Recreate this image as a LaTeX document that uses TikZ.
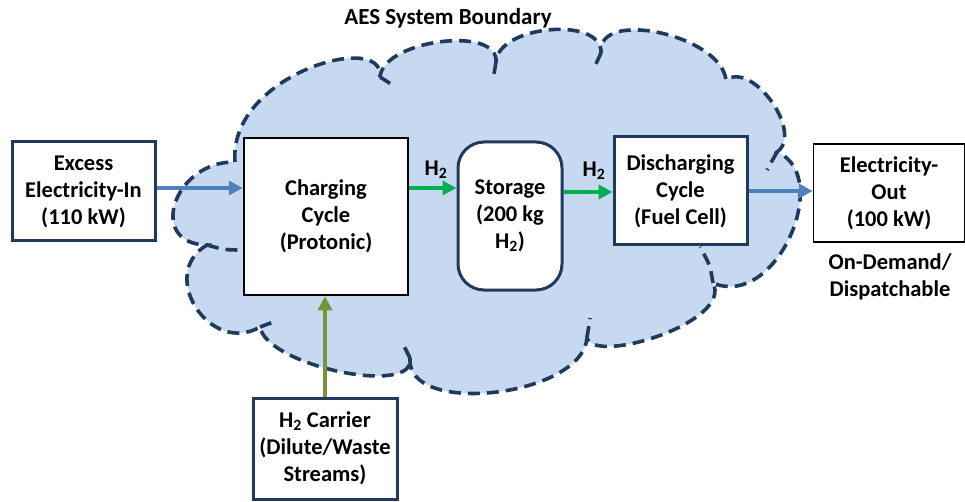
\documentclass[tikz,border=0pt]{standalone}
\usepackage{fontspec}
\setmainfont{Carlito}
\usetikzlibrary{arrows.meta}
\definecolor{cloudfill}{HTML}{C6D9F0}
\definecolor{navy}{HTML}{1F3A5C}
\definecolor{arrowblue}{HTML}{4F81BD}
\definecolor{hgreen}{HTML}{00B050}
\definecolor{olivegreen}{HTML}{77933C}
\begin{document}
\begin{tikzpicture}[x=1pt,y=-1pt,
  txt/.style={font=\fontsize{22.5}{27}\selectfont\bfseries, align=center, text=black},
  navybox/.style={txt, draw=navy, line width=3pt, fill=white, inner sep=0pt},
  blackbox/.style={txt, draw=black, fill=white, inner sep=0pt},
  cloudline/.style={draw=navy, line width=3.6pt, dash pattern=on 12pt off 7pt},
  flow/.style={line width=4pt, -{Triangle[length=14pt,width=14pt]}},
]
\useasboundingbox (0,0) rectangle (965,502);

% cloud (system boundary)
\fill[cloudfill] (235,162) .. controls (228,75) and (385,30) .. (380,77)
 .. controls (383,40) and (499,25) .. (496,62)
 .. controls (498,25) and (603,16) .. (601,53)
 .. controls (596,8) and (721,35) .. (726,80)
 .. controls (753,61) and (804,133) .. (777,152)
 .. controls (834,176) and (776,310) .. (713,283)
 .. controls (733,322) and (595,365) .. (587,338)
 .. controls (582,397) and (405,417) .. (410,358)
 .. controls (417,397) and (267,366) .. (260,327)
 .. controls (210,356) and (157,274) .. (207,245)
 .. controls (146,244) and (174,161) .. (235,162) -- cycle;
\draw[cloudline] (235,162) .. controls (228,75) and (385,30) .. (380,77)
 .. controls (383,40) and (499,25) .. (496,62)
 .. controls (498,25) and (603,16) .. (601,53)
 .. controls (596,8) and (721,35) .. (726,80)
 .. controls (753,61) and (804,133) .. (777,152)
 .. controls (834,176) and (776,310) .. (713,283)
 .. controls (733,322) and (595,365) .. (587,338)
 .. controls (582,397) and (405,417) .. (410,358)
 .. controls (417,397) and (267,366) .. (260,327)
 .. controls (210,356) and (157,274) .. (207,245)
 .. controls (146,244) and (174,161) .. (235,162) -- cycle;
% inner hooks of the cloud
\draw[cloudline] (380,77) -- (391,84);
\draw[cloudline] (496,62) -- (494,74);
\draw[cloudline] (601,53) -- (595,66);
\draw[cloudline] (777,152) -- (767,170);
\draw[cloudline] (713,283) .. controls (710,265) .. (700,247);
\draw[cloudline] (587,338) -- (590,318);
\draw[cloudline] (410,358) -- (402,342);
\draw[cloudline] (260,327) -- (276,321);
\draw[cloudline] (207,245) .. controls (225,250) .. (245,250);

\node[txt, font=\fontsize{23}{27}\selectfont\bfseries] (title) at (448,18) {AES System Boundary};

% boxes
\node[navybox, minimum width=143pt, minimum height=99pt] (exc) at (83.5,191.5) {Excess\\Electricity-In\\(110 kW)};
\node[blackbox, line width=2.5pt, minimum width=164pt, minimum height=157pt] (chg) at (326,216.5) {Charging\\Cycle\\(Protonic)};
\node[navybox, rounded corners=26pt, minimum width=104pt, minimum height=148pt] (sto) at (510,216) {Storage\\(200 kg\\H\textsubscript{2})};
\node[navybox, minimum width=133pt, minimum height=108pt] (dis) at (680.5,191) {Discharging\\Cycle\\(Fuel Cell)};
\node[blackbox, line width=1.5pt, minimum width=151pt, minimum height=98pt] (out) at (889,193) {Electricity-\\Out\\(100 kW)};
\node[navybox, minimum width=144pt, minimum height=101pt] (car) at (325,448.5) {H\textsubscript{2} Carrier\\(Dilute/Waste\\Streams)};

\node[txt] (dem) at (890,277) {On-Demand/\\Dispatchable};
\node[txt] (h2a) at (436,170) {H\textsubscript{2}};
\node[txt] (h2b) at (594,171) {H\textsubscript{2}};

% flows
\draw[flow, arrowblue] ([yshift=3.5pt]exc.east) -- ([yshift=3.5pt]exc.east -| chg.west);
\draw[flow, hgreen] ([yshift=28.5pt]chg.east) -- ([yshift=28.5pt]chg.east -| sto.west);
\draw[flow, hgreen] ([yshift=24pt]sto.east) -- ([yshift=24pt]sto.east -| dis.west);
\draw[flow, arrowblue] (dis.east) -- (dis.east -| out.west);
\draw[flow, olivegreen] (car.north) -- (car.north |- chg.south);
\end{tikzpicture}
\end{document}
